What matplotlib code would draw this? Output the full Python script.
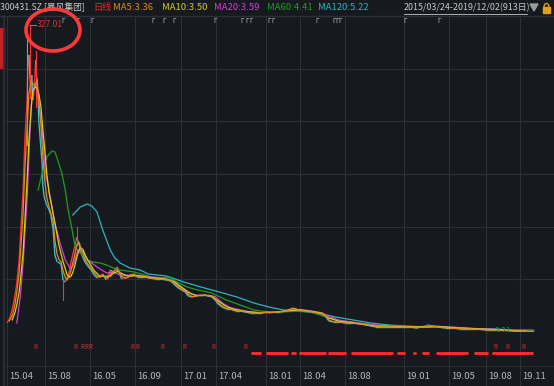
import numpy as np
import matplotlib.pyplot as plt
import matplotlib.transforms as mtransforms
from matplotlib.collections import LineCollection
from matplotlib.patches import Ellipse, Rectangle, Polygon

plt.rcParams['font.family'] = ['Noto Sans CJK SC', 'DejaVu Sans']

### Data (x = trading-day index, 913 days)
close_days = [0, 5, 10, 14, 17, 21, 24, 28, 31, 35, 36, 38, 40, 42, 43, 45, 47, 49, 50, 52,
              54, 55, 57, 59, 61, 62, 64, 66, 69, 73, 76, 80, 83, 87, 90, 94, 97, 101, 104, 108,
              111, 114, 118, 121, 125, 128, 132, 135, 140, 146, 151, 156, 161, 166, 172, 175, 179, 184, 191, 196,
              199, 205, 210, 215, 220, 225, 231, 239, 248, 257, 265, 276, 284, 291, 297, 303, 309, 314, 321, 328,
              335, 342, 349, 355, 361, 366, 373, 380, 387, 395, 404, 413, 421, 428, 435, 442, 449, 456, 465, 473,
              482, 491, 496, 501, 508, 517, 527, 536, 546, 553, 558, 565, 576, 586, 600, 612, 624, 638, 650, 662,
              675, 687, 699, 711, 725, 730, 737, 746, 759, 772, 784, 799, 815, 831, 846, 860, 876, 890, 900, 912]
close = [12.7, 18.0, 29.6, 42.2, 54.9, 79.1, 110.8, 153.0, 205.7, 247.9, 279.5, 295.4, 269.0, 253.2, 274.3, 247.9, 258.4, 279.5, 290.1, 263.7,
         247.9, 226.8, 211.0, 195.2, 179.3, 158.3, 147.7, 142.4, 137.2, 131.9, 126.6, 110.8, 84.4, 77.0, 77.0, 73.9, 58.1, 55.9, 60.2, 66.5,
         77.0, 84.4, 95.0, 103.4, 95.0, 87.6, 81.3, 77.0, 72.8, 68.6, 63.3, 60.2, 62.3, 64.4, 58.1, 61.2, 68.6, 66.5, 71.8, 63.3,
         59.1, 61.2, 61.2, 64.4, 64.4, 61.2, 61.2, 61.2, 60.2, 59.1, 59.1, 58.1, 57.0, 52.8, 49.6, 47.5, 45.4, 41.2, 40.1, 41.2,
         42.2, 42.2, 41.2, 40.1, 37.0, 32.7, 29.6, 27.5, 27.5, 25.4, 25.4, 24.3, 23.3, 23.3, 23.3, 23.3, 24.3, 23.3, 24.3, 24.3,
         25.4, 27.5, 28.5, 27.5, 25.4, 25.4, 24.3, 23.3, 22.2, 19.0, 14.8, 13.8, 13.8, 12.7, 12.7, 11.6, 10.6, 8.5, 8.5, 8.5,
         8.5, 8.5, 8.5, 7.4, 9.5, 10.6, 9.5, 8.5, 7.4, 7.4, 6.4, 6.4, 6.4, 5.3, 5.3, 5.3, 4.3, 4.3, 4.3, 3.3]

ma5_days = [4, 10, 14, 17, 21, 24, 28, 31, 35, 38, 42, 45, 49, 52, 55, 59, 62, 66, 69, 73,
            80, 83, 87, 90, 94, 97, 101, 104, 108, 111, 114, 118, 121, 125, 128, 132, 135, 140, 146, 151,
            156, 161, 166, 172, 175, 179, 184, 191, 196, 199, 205, 210, 215, 220, 225, 231, 239, 248, 257, 265,
            276, 284, 291, 297, 303, 309, 314, 321, 328, 335, 342, 349, 355, 361, 366, 373, 380, 387, 395, 404,
            413, 421, 435, 449, 465, 482, 491, 496, 501, 508, 527, 546, 553, 558, 565, 586, 612, 638, 687, 711,
            725, 737, 759, 799, 831, 876, 912]
ma5 = [15, 22, 33, 45, 65, 92, 130, 175, 220, 255, 268, 265, 262, 270, 250, 220, 190, 160, 145, 135,
       120, 100, 85, 80, 77, 68, 61, 58, 62, 68, 76, 86, 95, 98, 92, 86, 80, 75, 70, 66,
       62, 61, 63, 61, 60, 64, 67, 69, 66, 62, 60, 61, 63, 64, 62, 61, 61, 60, 59.5, 59,
       58.5, 57.5, 54, 51, 48, 46, 43, 40.5, 41, 42, 42, 41.5, 40.5, 38, 34, 30.5, 28, 27.5, 26, 25.5,
       24.5, 23.5, 23.3, 24, 24, 25, 27, 28, 27.5, 26, 24.5, 22.5, 20, 16, 14.2, 13, 11.8, 9, 8.5, 7.6,
       9, 9.6, 7.6, 6.5, 5.5, 4.4, 3.36]

ma10_days = [9, 14, 17, 21, 24, 28, 31, 35, 38, 42, 45, 49, 52, 55, 59, 62, 66, 69, 73, 80,
             87, 90, 94, 97, 101, 104, 108, 111, 114, 118, 121, 125, 128, 132, 135, 140, 146, 151, 156, 161,
             166, 172, 179, 184, 191, 196, 205, 215, 225, 239, 257, 276, 291, 303, 314, 328, 342, 355, 366, 380,
             395, 413, 435, 465, 491, 508, 527, 546, 558, 576, 600, 638, 687, 725, 746, 772, 815, 860, 912]
ma10 = [16, 24, 32, 45, 62, 88, 120, 165, 205, 240, 258, 262, 260, 255, 240, 218, 192, 170, 150, 128,
        105, 95, 85, 78, 70, 64, 61, 62, 66, 74, 82, 90, 92, 90, 85, 79, 73, 68, 65, 62,
        62, 62, 62, 65, 67, 66, 63, 62, 63, 61.5, 60, 59, 56, 50, 45, 41.5, 42, 41, 36, 30,
        27, 25, 23.6, 24, 26, 26.5, 25, 23, 18, 14.5, 13, 9.5, 8.6, 8.6, 9, 7.8, 6.6, 5.4, 3.5]

ma20_days = [17, 23, 28, 35, 40, 43, 49, 54, 61, 66, 75, 83, 92, 101, 109, 114, 123, 132, 140, 156,
             173, 184, 196, 215, 240, 265, 284, 297, 309, 321, 335, 349, 361, 373, 387, 404, 421, 442, 465, 491,
             508, 527, 546, 558, 576, 600, 638, 687, 725, 746, 772, 815, 860, 912]
ma20 = [12.7, 40.1, 76.0, 145.6, 216.3, 251.1, 265.8, 251.1, 216.3, 174.1, 145.6, 118.2, 97.1, 79.1, 70.7, 71.8, 89.7, 87.6, 79.1, 71.8,
        65.4, 66.5, 63.3, 63, 62, 60, 58, 53, 48, 43, 41.5, 42, 40.5, 34, 29, 26.5, 24.5, 23.6, 24, 26,
        27, 25.5, 23.5, 20, 15.5, 13.5, 10.5, 8.8, 8.4, 9.2, 8.2, 6.8, 5.6, 3.59]

ma60_days = [54, 61, 69, 78, 83, 88, 95, 101, 106, 113, 118, 127, 139, 149, 161, 173, 184, 196, 220, 251,
             283, 295, 312, 331, 355, 380, 404, 428, 454, 479, 508, 532, 558, 583, 607, 638, 668, 699, 735, 772,
             808, 846, 876, 912]
ma60 = [153.0, 170.9, 187.8, 194.1, 193.1, 184.6, 170.9, 153.0, 131.9, 110.8, 92.9, 86.5, 79.1, 77.0, 76.0, 73.9, 70.7, 68.6, 66.5, 61.2,
        60.2, 55.9, 50.7, 47.5, 44.3, 37.0, 31.7, 26.4, 24.3, 24.3, 25.4, 23.3, 18.0, 14.8, 12.7, 10.6, 9.5, 8.5, 9.5, 8.5,
        6.4, 5.3, 4.7, 4.41]

ma120_days = [114, 127, 139, 147, 156, 166, 179, 187, 196, 213, 231, 245, 276, 307, 336, 368, 399, 428, 454, 479,
              508, 539, 570, 600, 631, 662, 692, 723, 754, 784, 815, 846, 876, 912]
ma120 = [126.6, 135.0, 138.2, 136.1, 129.8, 110.8, 89.7, 81.3, 76.0, 70.7, 68.6, 64.4, 62.3, 55.9, 50.7, 45.4, 40.1, 33.8, 29.6, 26.4,
         25.4, 23.3, 19.0, 15.9, 12.7, 10.6, 9.5, 8.5, 8.5, 7.4, 6.4, 6.4, 5.3, 5.22]

# a few long wicks around the top
wick_days = [35, 40, 50, 97, 121]
wick_low = [200, 250, 240, 37, 95]
wick_high = [311, 327.01, 300, 60, 114]
wick_up = [False, True, True, True, True]

peak_day, peak_price = 40, 327.01
low_day, low_price = 846, 3.21

ma_names = ['MA5', 'MA10', 'MA20', 'MA60', 'MA120']
ma_last = [3.36, 3.50, 3.59, 4.41, 5.22]
ma_colors = ['#e08a1e', '#d2d21a', '#d63ed6', '#1f9e1f', '#2fb4c0']

tick_days = [0, 66, 144, 222, 302, 362, 449, 508, 586, 688, 766, 831, 890]
tick_labels = ['15.04', '15.08', '16.05', '16.09', '17.01', '17.04', '18.01', '18.04', '18.08',
               '19.01', '19.05', '19.08', '19.11']

event_days = [95, 120, 144, 251, 270, 286, 357, 404, 413, 421, 451, 459, 534, 564, 569, 574, 687, 747]

r_days = [49, 118, 130, 137, 144, 217, 226, 269, 307, 357, 414, 846, 867, 895]
dot_start = [425, 451, 494, 508, 558, 598, 678, 705, 721, 746, 756, 812, 843]
dot_end = [439, 486, 499, 551, 586, 668, 688, 707, 730, 754, 798, 832, 910]

BG = '#16191e'
GRID = '#2b2f37'
UP = '#ff3030'
DOWN = '#3cbcc4'
W, H = 554, 386

def fx(px):
    return px / W

def fy(py):
    return 1 - py / H

fig = plt.figure(figsize=(W / 100, H / 100), dpi=100, facecolor=BG)

xlim = (-5.2, 948.5)
ylim = (3.21, 336.5)

ax = fig.add_axes([fx(4), fy(332), fx(550), 316 / H], facecolor=BG)
ax2 = fig.add_axes([fx(4), fy(367), fx(550), 35 / H], facecolor=BG)
ax3 = fig.add_axes([fx(4), 0, fx(550), 19 / H], facecolor=BG)

for a in (ax, ax2, ax3):
    a.set_xlim(*xlim)
    for s in a.spines.values():
        s.set_visible(False)
    a.set_yticks([])
    a.set_xticks([])
    for d in tick_days:
        a.axvline(d, color=GRID, lw=0.8, zorder=0)
    a.axvline(xlim[0] + 0.5, color=GRID, lw=1.2, zorder=0)

ax.set_ylim(*ylim)
for yv in np.linspace(ylim[0], ylim[1], 7):
    ax.axhline(yv, color=GRID, lw=0.8, zorder=0)
ax2.set_ylim(0, 1)
ax2.axhline(0.0, color=GRID, lw=1.2)
ax3.set_ylim(0, 1)

# K-line as up/down coloured close path
pts = np.column_stack([close_days, close])
segs = np.stack([pts[:-1], pts[1:]], axis=1)
cols = [UP if b > a else DOWN for a, b in zip(close[:-1], close[1:])]
ax.add_collection(LineCollection(segs, colors=cols, linewidths=1.0, zorder=2))
for d, lo, hi, up in zip(wick_days, wick_low, wick_high, wick_up):
    ax.plot([d, d], [lo, hi], color=UP if up else DOWN, lw=0.8, zorder=2)

ax.plot(ma120_days, ma120, color=ma_colors[4], lw=0.9, zorder=3)
ax.plot(ma60_days, ma60, color=ma_colors[3], lw=0.9, zorder=3)
ax.plot(ma20_days, ma20, color=ma_colors[2], lw=0.9, zorder=4)
ax.plot(ma10_days, ma10, color=ma_colors[1], lw=0.9, zorder=5)
ax.plot(ma5_days, ma5, color=ma_colors[0], lw=0.9, zorder=5)

# max / min labels
ax.plot([peak_day, peak_day + 10], [peak_price, peak_price], color='#9a9a9a', lw=0.6, zorder=6)
ax.text(peak_day + 11, peak_price, f'{peak_price:.2f}', color='#e02c2c', fontsize=6.2,
        va='center', ha='left', zorder=6)
ax.text(low_day, low_price, f'{low_price:.2f}', color='#1f8a4c', fontsize=6.2,
        va='center', ha='left', clip_on=False, zorder=6)
ax.plot([close_days[-1] - 3, close_days[-1] + 2], [close[-1] - 0.3, close[-1] + 1.2],
        color='#9a9a9a', lw=0.6, zorder=6)

# event markers along the top
tr = mtransforms.blended_transform_factory(ax.transData, ax.transAxes)
for d in event_days:
    ax.text(d, 0.997, 'Γ', transform=tr, color='#c8c8c8', fontsize=4.5, va='top', ha='left')

# lower strip: R marks and signal dots
for d in r_days:
    ax2.text(d, 0.57, 'R', color='#d83030', fontsize=4.4, ha='center', va='center')
for s, e in zip(dot_start, dot_end):
    ax2.plot([s, e], [0.4, 0.4], color='#ff2a2a', lw=2.1, solid_capstyle='round')

# date labels
ax2.xaxis.set_minor_locator(plt.MultipleLocator(14))
ax2.tick_params(axis='x', which='minor', direction='out', length=2, width=0.5, color='#5a5e66')
lab_tr = mtransforms.offset_copy(ax3.transData, fig=fig, x=2, y=0, units='dots')
for d, lab in zip(tick_days, tick_labels):
    ax3.text(d, 0.5, lab, transform=lab_tr, color='#b4b8c0', fontsize=6.8, ha='left', va='center')

# header
hy = fy(7.5)
fig.text(fx(0), hy, '300431.SZ [暴风集团]', color='#c8c8c8', fontsize=6.3, va='center')
fig.text(fx(93), hy, '日线', color='#e02c2c', fontsize=6.6, va='center')
for xp, nm, v, c in zip([113, 162, 214, 267, 318], ma_names, ma_last, ma_colors):
    fig.text(fx(xp), hy, f'{nm}:{v:.2f}', color=c, fontsize=6.8, va='center')
fig.text(fx(404), hy, '2015/03/24-2019/12/02(913日)', color='#c8c8c8', fontsize=6.4, va='center')
fig.add_artist(plt.Line2D([fx(404), fx(527)], [fy(13.5), fy(13.5)], color='#c8c8c8', lw=0.6))
fig.add_artist(Polygon([[fx(530), fy(4)], [fx(538), fy(4)], [fx(534), fy(11)]], closed=True,
                       transform=fig.transFigure, color='#9a9a9a'))
fig.add_artist(Rectangle((fx(543), fy(13)), fx(7), 6 / H, transform=fig.transFigure, color='#e0a020'))
fig.add_artist(Ellipse((fx(546.5), fy(7)), fx(5), 7 / H, transform=fig.transFigure,
                       fill=False, ec='#e0a020', lw=1.0))
fig.add_artist(plt.Line2D([0, 1], [fy(16), fy(16)], color=GRID, lw=1.0))
fig.add_artist(plt.Line2D([fx(4), fx(4)], [0, fy(16)], color=GRID, lw=1.2))
fig.add_artist(Rectangle((0, fy(68)), fx(4), 40 / H, transform=fig.transFigure, color='#c0222a'))

# red circle annotation around the top
fig.add_artist(Ellipse((fx(53), fy(30)), fx(54), 42 / H, transform=fig.transFigure,
                       fill=False, ec='#ff3a3a', lw=2.6, zorder=10))

plt.savefig('out.png', dpi=100, facecolor=BG)
